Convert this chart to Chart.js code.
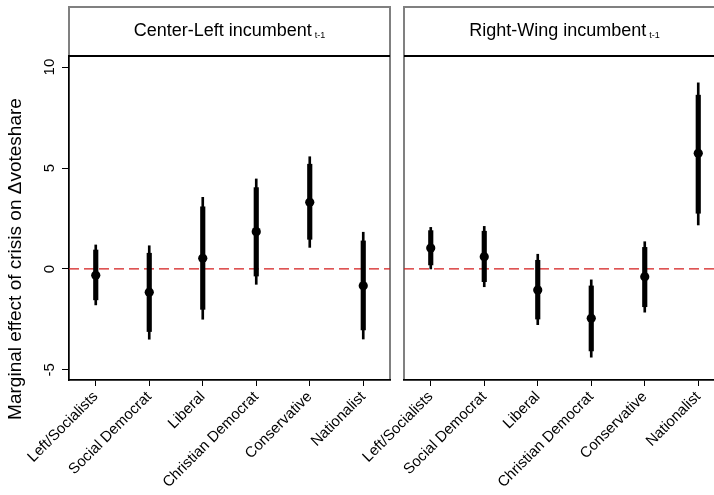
<!DOCTYPE html>
<html>
<head>
<meta charset="utf-8">
<script src="https://cdn.jsdelivr.net/npm/chart.js@4.4.1/dist/chart.umd.min.js"></script>
<style>
body{margin:0;background:#fff;overflow:hidden;}
#wrap{position:relative;width:714px;height:495px;overflow:hidden;background:#fff;}
canvas{position:absolute;top:0;}
</style>
</head>
<body>
<div id="wrap">
<canvas id="leftChart" width="397" height="495" style="left:0px"></canvas>
<canvas id="rightChart" width="400" height="495" style="left:340px"></canvas>
</div>
<script>

let categories=["Left/Socialists","Social Democrat","Liberal","Christian Democrat","Conservative","Nationalist"];
let yTicks=[-5,0,5,10];

// Center-Left incumbent panel
let clEst=[-0.31,-1.15,0.53,1.85,3.30,-0.83];
let clLo90=[-1.53,-3.10,-2.00,-0.35,1.47,-3.02];
let clHi90=[0.94,0.78,3.08,4.03,5.19,1.39];
let clLo95=[-1.78,-3.48,-2.49,-0.76,1.07,-3.47];
let clHi95=[1.19,1.15,3.55,4.46,5.56,1.82];

// Right-Wing incumbent panel
let rwEst=[1.04,0.61,-1.04,-2.44,-0.38,5.73];
let rwLo90=[0.20,-0.63,-2.48,-4.06,-1.87,2.76];
let rwHi90=[1.90,1.87,0.43,-0.84,1.07,8.61];
let rwLo95=[0.00,-0.88,-2.76,-4.37,-2.14,2.18];
let rwHi95=[2.06,2.11,0.73,-0.54,1.35,9.22];

let fontFamily="'Liberation Sans', Arial, sans-serif";
let stripTop=7;

let facetPlugin={
id:"facet",
beforeDraw(chart,args,opts){
let ctx=chart.ctx;
let a=chart.chartArea;
ctx.save();
ctx.fillStyle="#fff";
ctx.fillRect(a.left,stripTop,a.right-a.left,a.bottom-stripTop);
ctx.strokeStyle="#808080";
ctx.lineWidth=2;
ctx.strokeRect(a.left,stripTop,a.right-a.left,a.bottom-stripTop);
ctx.strokeStyle="#000";
ctx.beginPath();
ctx.moveTo(a.left,a.top);
ctx.lineTo(a.right,a.top);
ctx.stroke();

ctx.fillStyle="#000";
ctx.textAlign="left";
ctx.textBaseline="alphabetic";
ctx.font="18px "+fontFamily;
let w1=ctx.measureText(opts.title).width+3;
ctx.font="9px "+fontFamily;
let w2=ctx.measureText(opts.sub).width;
let x=(a.left+a.right)/2-(w1+w2)/2;
ctx.font="18px "+fontFamily;
ctx.fillText(opts.title,x,36);
ctx.font="9px "+fontFamily;
ctx.fillText(opts.sub,x+w1,38);

if(opts.yTitle){
ctx.translate(21,259);
ctx.rotate(-Math.PI/2);
ctx.textAlign="center";
ctx.font="19px "+fontFamily;
ctx.fillText(opts.yTitle,0,0);
}
ctx.restore();
},
beforeDatasetsDraw(chart){
let ctx=chart.ctx;
let a=chart.chartArea;
let y=chart.scales.y.getPixelForValue(0);
ctx.save();
ctx.strokeStyle="#d41c1c";
ctx.lineWidth=1.3;
ctx.setLineDash([10,5]);
ctx.beginPath();
ctx.moveTo(a.left,y);
ctx.lineTo(a.right,y);
ctx.stroke();
ctx.restore();
}
};

function makePanel(id,est,lo90,hi90,lo95,hi95,facet,showY,padLeft,padRight){

let thin=lo95.map((v,i)=>[v,hi95[i]]);
let thick=lo90.map((v,i)=>[v,hi90[i]]);

return new Chart(document.getElementById(id),{
type:"bar",
data:{
labels:categories,
datasets:[
{type:"line",data:est,showLine:false,pointRadius:4.6,pointHoverRadius:4.6,pointBackgroundColor:"#000",pointBorderWidth:0,borderColor:"#000",order:0},
{data:thick,backgroundColor:"#000",barThickness:4.5,borderWidth:0,order:1},
{data:thin,backgroundColor:"#000",barThickness:2,borderWidth:0,order:2}
]
},
options:{
responsive:false,
animation:false,
events:[],
layout:{padding:{left:padLeft,right:padRight,top:56,bottom:0}},
datasets:{bar:{grouped:false}},
plugins:{
legend:{display:false},
tooltip:{enabled:false},
facet:facet
},
scales:{
x:{
offset:true,
grid:{offset:false,drawOnChartArea:false,drawTicks:true,tickLength:6,tickColor:"#000",tickWidth:1},
border:{color:"#000",width:1.5},
ticks:{color:"#000",font:{family:fontFamily,size:15},minRotation:45,maxRotation:45,padding:2,autoSkip:false},
afterFit(s){s.height=115;}
},
y:{
display:showY,
min:-5.5,
max:10.55,
afterBuildTicks(s){s.ticks=yTicks.map(v=>({value:v}));},
afterFit(s){if(showY){s.width=69;}},
grid:{drawOnChartArea:false,drawTicks:true,tickLength:7,tickColor:"#000",tickWidth:1},
border:{color:"#000",width:1.5},
ticks:{color:"#000",font:{family:fontFamily,size:15},minRotation:90,maxRotation:90,crossAlign:"center",padding:4}
}
}
},
plugins:[facetPlugin]
});

}

makePanel("leftChart",clEst,clLo90,clHi90,clLo95,clHi95,
{title:"Center-Left incumbent",sub:"t-1",yTitle:"Marginal effect of crisis on \u0394voteshare"},true,0,7);

makePanel("rightChart",rwEst,rwLo90,rwHi90,rwLo95,rwHi95,
{title:"Right-Wing incumbent",sub:"t-1"},false,64,15);

</script>
</body>
</html>
